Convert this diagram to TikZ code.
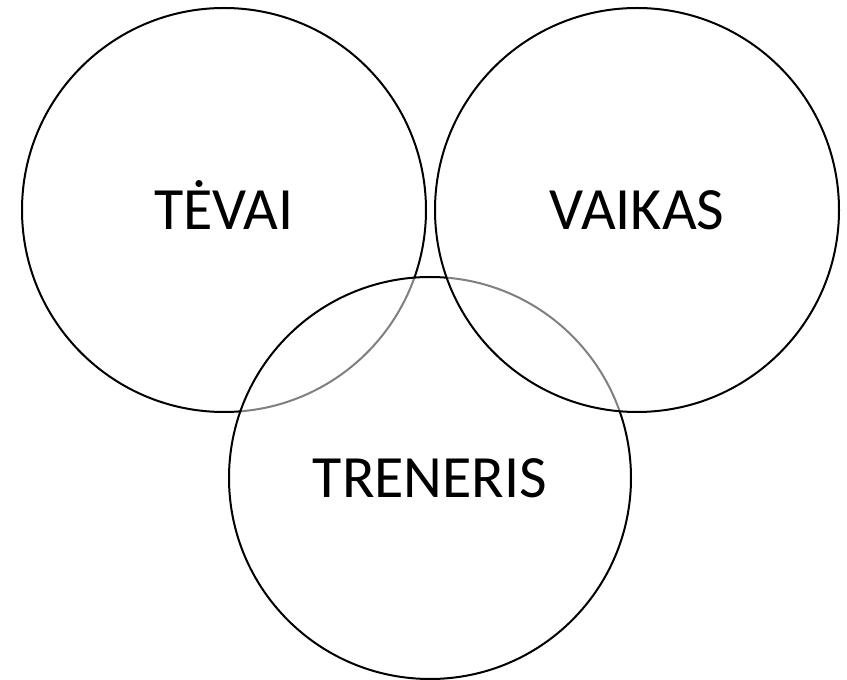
\documentclass[tikz,border=0pt]{standalone}
\usepackage{fontspec}
\setmainfont{Carlito}
\begin{document}
\begin{tikzpicture}[x=0.75pt,y=-0.75pt,
  venn/.style={circle, draw=black, line width=1.5pt, fill=white,
    fill opacity=0.5, text opacity=1, inner sep=0pt,
    text height=29pt, text depth=0pt,
    font=\fontsize{45}{54}\selectfont}]
  \useasboundingbox (0,0) rectangle (847,680);
  % drawing order sets which outline shows through the translucent fills
  \node[venn, minimum size=303pt] (tevai) at (224,210) {TĖVAI};
  \node[venn, minimum size=301.5pt] (treneris) at (430,478) {TRENERIS};
  \node[venn, minimum size=303pt] (vaikas) at (637,210) {VAIKAS};
\end{tikzpicture}
\end{document}
